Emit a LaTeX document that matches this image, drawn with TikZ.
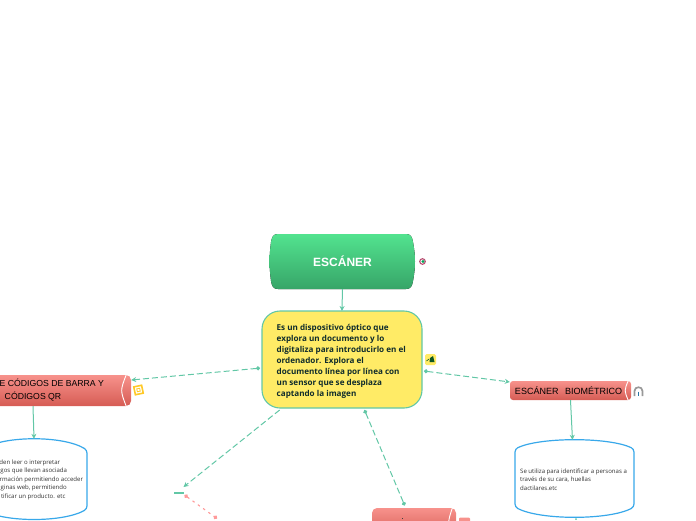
\documentclass[tikz,border=0pt]{standalone}
\usepackage{fontspec}
\setmainfont{Open Sans}
\newfontfamily\headfont{Liberation Sans}
\usepackage{xcolor}
\definecolor{mmteal}{RGB}{98,199,166}
\definecolor{mmgreentop}{RGB}{82,227,143}
\definecolor{mmgreenbot}{RGB}{55,165,104}
\definecolor{mmyellow}{RGB}{255,235,102}
\definecolor{mmredtop}{RGB}{247,146,140}
\definecolor{mmredbot}{RGB}{214,92,84}
\definecolor{mmblue}{RGB}{56,168,234}
\definecolor{mmpink}{RGB}{255,154,154}
\definecolor{mmink}{RGB}{16,44,44}
\definecolor{mmamber}{RGB}{255,201,40}
\usetikzlibrary{arrows.meta, positioning}
\tikzset{
  redcyl/.style={top color=mmredtop, bottom color=mmredbot, rounded corners=5pt, inner sep=0pt,
                 font=\headfont\fontsize{8.7}{13}\selectfont, text=black, align=center},
  capline/.style={white, line width=0.9pt},
  databox/.style={draw=mmblue, line width=1.2pt, fill=white, rounded corners=3pt},
  datatext/.style={font=\fontsize{6.05}{8.5}\selectfont, text=black!80, align=left, inner sep=0pt},
  link/.style={mmteal, line width=1pt},
  dashlink/.style={link, dash pattern=on 6pt off 3pt}
}
\begin{document}
\begin{tikzpicture}[x=1pt, y=-1pt, >={Stealth[length=5pt,width=5pt]}]
\useasboundingbox (0,0) rectangle (696,520);
\clip (0,0) rectangle (696,520);

% === Central topic ===
\fill[top color=mmgreentop, bottom color=mmgreenbot]
  (342,234) -- (406,234) .. controls (411,234) and (412,237) .. (413,242)
  .. controls (414.5,250) and (415,256) .. (415,261.5)
  .. controls (415,267) and (414.5,273) .. (413,281)
  .. controls (412,286) and (411,289) .. (406,289) -- (278,289)
  .. controls (273,289) and (272,286) .. (271,281)
  .. controls (270,273) and (269.5,267) .. (269.5,261.5)
  .. controls (269.5,256) and (270,250) .. (271,242)
  .. controls (272,237) and (273,234) .. (278,234) -- cycle;
\node[font=\headfont\bfseries\fontsize{12}{13}\selectfont, text=white, minimum width=145pt, minimum height=55pt, inner sep=0pt]
  (title) at (342.5,261.5) {ESCÁNER};

% === Description ===
\node[draw=mmteal, fill=mmyellow, line width=1.1pt, rounded corners=18pt, minimum width=160pt, minimum height=97pt,
      outer sep=2pt, inner sep=0pt] (desc) at (342,359.5) {};
\node[font=\bfseries\fontsize{8.1}{11}\selectfont, text=mmink, align=left, inner sep=0pt, anchor=north west]
  (desctext) at (276.5,324) {Es un dispositivo óptico que\\explora un documento y lo\\digitaliza para introducirlo en el\\ordenador. Explora el\\documento línea por línea con\\un sensor que se desplaza\\captando la imagen};

% === Left branch ===
\node[redcyl, minimum width=196pt, minimum height=31pt] (barra) at (33,390.5)
  {\hspace*{37.5pt}E CÓDIGOS DE BARRA Y\\CÓDIGOS QR};
\draw[capline] ([xshift=-5pt]barra.north east) .. controls ([xshift=-11pt]barra.east) .. ([xshift=-5pt]barra.south east);
\draw[databox] (-19,450) .. controls (5,435.5) and (63,435.5) .. (87,450) -- (87,509)
  .. controls (63,522.5) and (5,522.5) .. (-19,509) -- cycle;
\node[minimum width=106pt, minimum height=80pt, inner sep=0pt] (barradata) at (34,479) {};
\node[datatext, anchor=north west] (barratext) at (-11.5,459.5)
  {\hphantom{Pue}den leer o interpretar\\\hphantom{códi}gos que llevan asociada\\\hphantom{info}rmación permitiendo acceder\\\hphantom{a pá}ginas web, permitiendo\\\hphantom{iden}tificar un producto. etc};

% === Right branch ===
\node[redcyl, font=\headfont\fontsize{9}{13}\selectfont, minimum width=121pt, minimum height=19pt, rounded corners=3pt] (bio) at (570.5,390.5) {ESCÁNER\hspace{4pt} BIOMÉTRICO\hspace{4pt}};
\draw[capline] ([xshift=-3pt]bio.north east) .. controls ([xshift=-7pt]bio.east) .. ([xshift=-3pt]bio.south east);
\draw[databox] (515,449) .. controls (540,437) and (609,437) .. (634,449) -- (634,507)
  .. controls (609,520.3) and (540,520.3) .. (515,507) -- cycle;
\node[minimum width=119pt, minimum height=77pt, inner sep=0pt] (biodata) at (574.5,478.5) {};
\node[datatext, anchor=north west] (biotext) at (520,468.5)
  {Se utiliza para identificar a personas a\\través de su cara, huellas\\dactilares.etc};

% === Lower branches ===
\node[redcyl, minimum width=84pt, minimum height=30pt, outer ysep=2.5pt] (lower) at (414,523) {};
\draw[capline] ([xshift=-3pt]lower.north east) .. controls ([xshift=-9pt]lower.east) .. ([xshift=-3pt]lower.south east);
\fill[black!75] (401.5,517.5) rectangle (403,519);
\fill[mmredtop, rounded corners=1pt] (459,517.5) rectangle (470,525);
\coordinate (hubtip) at (183.5,487);
\coordinate (hubdot) at (184.5,495);
\coordinate (reddot) at (217,518.5);
\node[minimum width=10pt, minimum height=1.4pt, inner sep=0pt, fill=mmteal] (hub) at (179,493) {};
\coordinate (biodot) at (576,519);

% === Connectors ===
\draw[link, ->, shorten >=-2pt] (title.south) -- (desc.north);
\draw[dashlink, {Circle[length=4pt]}-{Stealth[length=5pt,width=5pt]}] (desc.186) -- (barra.east |- 131,380);
\draw[dashlink, {Circle[length=4pt]}-{Stealth[length=5pt,width=5pt]}] (desc.-8) -- (bio.172);
\draw[dashlink, {Circle[length=4pt]}-{Circle[length=4pt]}] (desc.-66.6) -- (lower.118);
\draw[dashlink, ->] (desc.-141.5) -- (hubtip);
\draw[link, ->] (barra.south) -- (barradata.north);
\draw[link, ->] (bio.south) -- (biodata.93);
\draw[mmpink, line width=1.1pt, dash pattern=on 2.5pt off 4pt, {Circle[length=4pt]}-{Circle[length=4pt]}] (hubdot) -- (reddot);
\fill[mmteal] (biodot) circle (1pt);

% === Icons ===
\draw[purple!80!black!70, line width=1.1pt] (422.5,261.5) circle (2.8pt);
\fill[teal!70!green] (423,261.5) circle (1.7pt);
\fill[mmyellow, rounded corners=1.5pt] (425,354) rectangle (436,365);
\fill[mmink!80!green] (430,358) -- (433,356) -- (434.5,362) -- (429.5,362) -- cycle;
\draw[mmink!80!green, line width=0.6pt] (426.5,361) -- (429,359);
\begin{scope}[rotate around={12:(138.5,390)}]
\draw[mmamber, line width=1.6pt] (134.5,386) rectangle (142.5,394);
\draw[mmamber, line width=0.8pt] (137,388.5) rectangle (140,391.5);
\end{scope}
\draw[black!40, line width=1.7pt] (634.5,396) -- (634.5,391) .. controls (634.5,386) and (642.5,386) .. (642.5,391) -- (642.5,396);
\draw[mmblue!70!black, line width=0.9pt] (638.5,391.5) -- (638.5,396);
\end{tikzpicture}
\end{document}
